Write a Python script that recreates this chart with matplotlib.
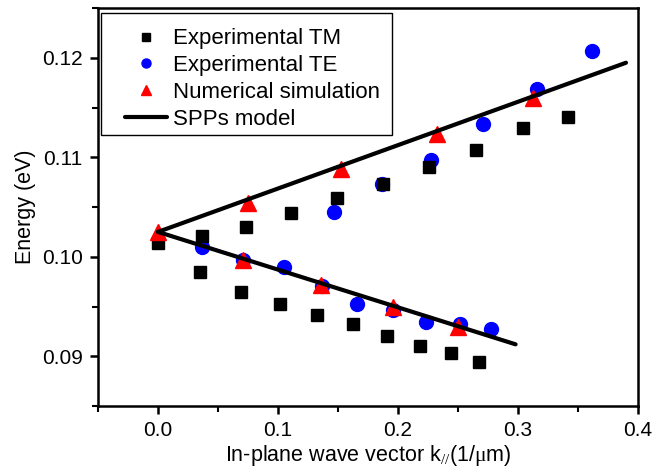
import matplotlib
matplotlib.use("Agg")
import matplotlib.pyplot as plt
from matplotlib.ticker import MultipleLocator
from matplotlib.patches import Rectangle

plt.rcParams['font.family'] = ['Liberation Sans', 'DejaVu Sans']
plt.rcParams['mathtext.fontset'] = 'custom'
plt.rcParams['mathtext.rm'] = 'Liberation Serif'
plt.rcParams['mathtext.it'] = 'Liberation Serif:italic'

# Experimental TM (black squares)
tm_k = [0.0, 0.035, 0.069, 0.102, 0.1325, 0.1625, 0.191, 0.218, 0.244, 0.2675,
        0.037, 0.073, 0.111, 0.149, 0.1875, 0.226, 0.265, 0.304, 0.342]
tm_e = [0.1014, 0.0985, 0.0965, 0.0953, 0.0941, 0.0932, 0.0920, 0.0910, 0.0903, 0.0894,
        0.1021, 0.1030, 0.1044, 0.1059, 0.1073, 0.1090, 0.1107, 0.1129, 0.1140]

# Experimental TE (blue circles)
te_k = [0.0367, 0.0708, 0.105, 0.1367, 0.166, 0.196, 0.223, 0.252, 0.2775,
        0.147, 0.187, 0.2275, 0.271, 0.316, 0.362]
te_e = [0.1010, 0.0997, 0.0990, 0.0971, 0.0953, 0.0946, 0.0934, 0.0932, 0.0927,
        0.1045, 0.1073, 0.1097, 0.1133, 0.1169, 0.1207]

# Numerical simulation (red triangles)
sim_k = [0.0, 0.0708, 0.136, 0.196, 0.25,
         0.075, 0.1525, 0.2325, 0.3125]
sim_e = [0.1025, 0.0997, 0.0972, 0.0950, 0.0929,
         0.1054, 0.1088, 0.1123, 0.1160]

# SPPs model (two straight branches)
spp_upper_k = [0.0, 0.39]
spp_upper_e = [0.1025, 0.1195]
spp_lower_k = [0.0, 0.298]
spp_lower_e = [0.1025, 0.0912]

fig = plt.figure(figsize=(6.55, 4.72), dpi=100)
ax = fig.add_axes([0.1496, 0.1398, 0.8244, 0.8432])

ax.plot(tm_k, tm_e, 's', color='black', markersize=9, linestyle='none',
        label='Experimental TM', zorder=3)
ax.plot(te_k, te_e, 'o', color='#0000ff', markersize=10, linestyle='none',
        label='Experimental TE', zorder=2)
ax.plot(sim_k, sim_e, '^', color='#ff0000', markersize=11, linestyle='none',
        label='Numerical simulation', zorder=4)
ax.plot(spp_upper_k, spp_upper_e, '-', color='black', lw=3,
        label='SPPs model', zorder=5, solid_capstyle='round')
ax.plot(spp_lower_k, spp_lower_e, '-', color='black', lw=3, zorder=5,
        solid_capstyle='round')

ax.set_xlim(-0.05, 0.4)
ax.set_ylim(0.085, 0.125)
ax.xaxis.set_minor_locator(MultipleLocator(0.05))
ax.yaxis.set_minor_locator(MultipleLocator(0.005))
ax.set_xticks([0.0, 0.1, 0.2, 0.3, 0.4])
ax.set_xticklabels(['0.0', '0.1', '0.2', '0.3', '0.4'])
ax.set_yticks([0.09, 0.10, 0.11, 0.12])
ax.set_yticklabels(['0.09', '0.10', '0.11', '0.12'])

ax.tick_params(which='major', direction='out', length=6, width=1.8,
               labelsize=15, top=False, right=False, pad=5)
ax.tick_params(which='minor', direction='out', length=4, width=1.5,
               top=False, right=False)
for s in ax.spines.values():
    s.set_linewidth(1.8)

ax.set_xlabel(r'In-plane wave vector k$_{//}$(1/$\mathrm{\mu}$m)', fontsize=15.5, labelpad=2)
ax.set_ylabel('Energy (eV)', fontsize=15.5, labelpad=4)

# legend frame (drawn separately to match the original's padding)
ax.add_patch(Rectangle((0.0056, 0.681), 0.539, 0.3064, transform=ax.transAxes,
                       facecolor='white', edgecolor='black', lw=1.0, zorder=6))
leg = ax.legend(loc='upper left', bbox_to_anchor=(0.05, 0.949), fontsize=16,
                frameon=False, borderaxespad=0, borderpad=0,
                handlelength=1.9, handletextpad=0.25,
                labelspacing=0.26, markerscale=0.65)
leg.set_zorder(7)

fig.savefig('out.png', dpi=100)
